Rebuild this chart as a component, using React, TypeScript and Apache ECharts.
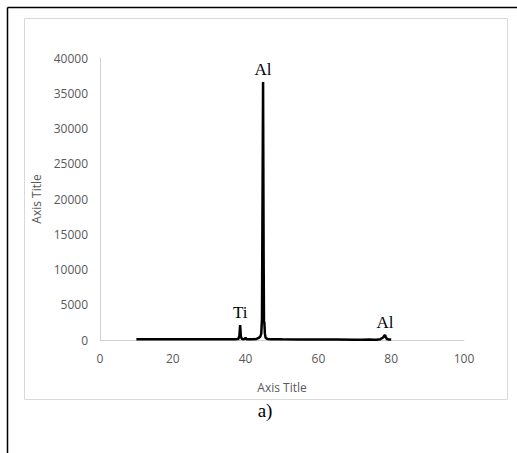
import React, { useEffect, useRef } from "react";
import * as echarts from "echarts";

const twoTheta = [10, 15, 20, 25, 30, 35, 37, 38, 38.3, 38.5, 38.7, 39, 39.5, 40, 40.3, 40.6, 41, 42, 43, 43.6, 44, 44.3, 44.5, 44.65, 44.8, 44.95, 45.05, 45.15, 45.3, 45.5, 46, 47, 50, 55, 60, 65, 70, 72, 74, 75, 76, 77, 77.8, 78.1, 78.3, 78.5, 78.8, 79.2, 80];
const intensity = [110, 100, 100, 100, 90, 100, 110, 140, 600, 2100, 500, 130, 100, 300, 110, 100, 90, 100, 150, 300, 450, 900, 3000, 20000, 36600, 12000, 2600, 2500, 900, 300, 150, 110, 90, 80, 70, 60, 50, 50, 80, 40, 50, 120, 350, 600, 700, 450, 150, 80, 60];

const peakNames = ["Ti", "Al", "Al"];
const peakX = [38.5, 44.8, 78.3];
const peakY = [2100, 36600, 700];

const xTicks = [0, 100];
const yRange = [0, 40000];

export default function App() {
  const ref = useRef<HTMLDivElement>(null);
  useEffect(() => {
    if (!ref.current) return;
    const chart = echarts.init(ref.current, null, { renderer: "svg" });
    const axisFont = { fontFamily: "Open Sans", fontSize: 12, color: "#595959" };
    chart.setOption({
      animation: false,
      backgroundColor: "#ffffff",
      grid: { left: 100, right: 53, top: 58, bottom: 113 },
      xAxis: {
        type: "value",
        min: xTicks[0],
        max: xTicks[1],
        interval: 20,
        name: "Axis Title",
        nameLocation: "middle",
        nameGap: 41,
        nameTextStyle: { fontFamily: "Open Sans", fontSize: 12, color: "#595959" },
        axisLine: { show: true, lineStyle: { color: "#d0d0d0", width: 1 } },
        axisTick: { show: false },
        splitLine: { show: false },
        axisLabel: { ...axisFont, margin: 12, formatter: (v: number) => String(v) },
      },
      yAxis: {
        type: "value",
        min: yRange[0],
        max: yRange[1],
        interval: 5000,
        name: "Axis Title",
        nameLocation: "middle",
        nameGap: 54,
        nameTextStyle: { fontFamily: "Open Sans", fontSize: 12, color: "#595959" },
        axisLine: { show: true, lineStyle: { color: "#d0d0d0", width: 1 } },
        axisTick: { show: false },
        splitLine: { show: false },
        axisLabel: { ...axisFont, margin: 12, formatter: (v: number) => String(v) },
      },
      series: [
        {
          type: "line",
          data: twoTheta.map((x, i) => [x, intensity[i]]),
          showSymbol: false,
          symbol: "none",
          lineStyle: { color: "#000000", width: 2.5 },
          markPoint: {
            symbol: "circle",
            symbolSize: 0,
            data: peakNames.map((n, i) => ({ name: n, coord: [peakX[i], peakY[i]], value: n })),
            label: {
              show: true,
              position: "top",
              distance: 4,
              formatter: (p: any) => p.name,
              fontFamily: "Liberation Serif",
              fontSize: 17,
              color: "#000000",
            },
          },
        },
      ],
      graphic: [
        { type: "line", shape: { x1: 7.5, y1: 7.5, x2: 517, y2: 7.5 }, style: { stroke: "#000", lineWidth: 1.5 } },
        { type: "line", shape: { x1: 7.5, y1: 7.5, x2: 7.5, y2: 453 }, style: { stroke: "#000", lineWidth: 1.5 } },
        { type: "rect", shape: { x: 24.5, y: 18.5, width: 483, height: 381 }, style: { fill: "none", stroke: "#d9d9d9", lineWidth: 1 } },
        { type: "text", x: 265, y: 410, style: { text: "a)", fontFamily: "Liberation Serif", fontSize: 19, fill: "#000", align: "center", verticalAlign: "middle" } },
      ],
    });
    return () => chart.dispose();
  }, []);
  return <div ref={ref} style={{ width: 517, height: 453, position: "absolute", left: 0, top: 0 }} />;
}
